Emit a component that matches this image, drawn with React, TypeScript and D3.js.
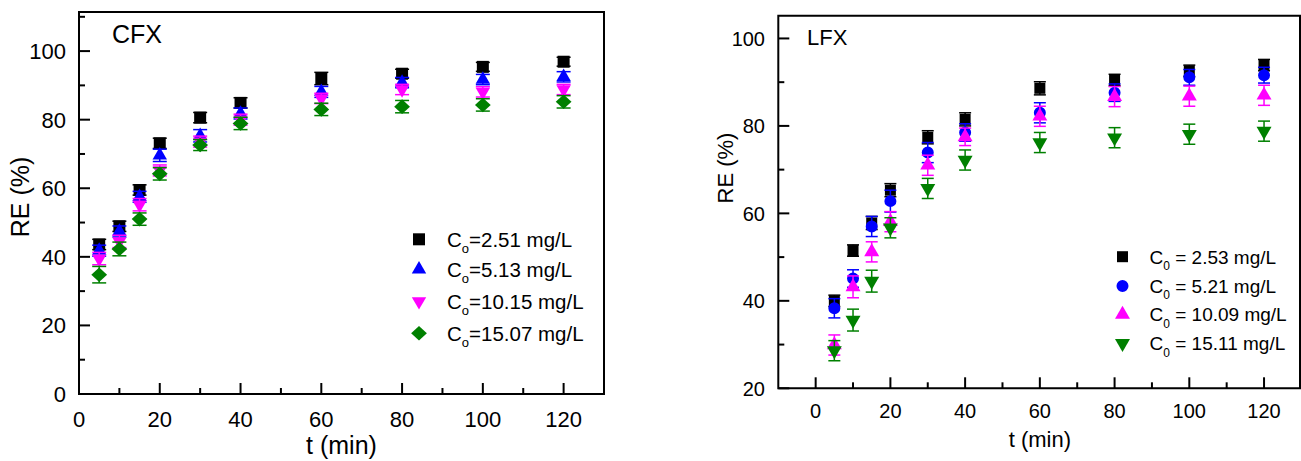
import React from 'react';
import * as d3 from 'd3';

// ---------- data ----------
const times = [5, 10, 15, 20, 30, 40, 60, 80, 100, 120];

// CFX panel
const cfxLegend = ['=2.51 mg/L', '=5.13 mg/L', '=10.15 mg/L', '=15.07 mg/L'];
const cfx251 = [43.6, 48.9, 59.5, 73.1, 80.6, 84.9, 92.0, 93.4, 95.4, 96.9];
const cfx513 = [41.8, 47.4, 57.5, 69.6, 75.3, 81.8, 88.1, 90.8, 91.7, 92.5];
const cfx1015 = [39.5, 44.5, 55.2, 65.2, 73.6, 80.0, 86.2, 88.8, 88.1, 88.8];
const cfx1507 = [34.8, 42.3, 51.0, 64.2, 72.6, 78.9, 83.0, 83.8, 84.3, 85.2];
const cfxErr251 = [1.5, 1.5, 1.5, 1.5, 1.5, 1.5, 1.8, 1.3, 1.3, 1.3];
const cfxErr513 = [1.6, 1.6, 1.6, 1.8, 1.8, 1.6, 1.6, 1.5, 1.5, 1.5];
const cfxErr1015 = [1.8, 1.8, 1.8, 1.6, 1.6, 1.6, 1.5, 1.5, 1.5, 1.5];
const cfxErr1507 = [2.4, 2.0, 1.8, 1.8, 1.6, 1.8, 1.8, 1.8, 1.8, 1.8];

// LFX panel
const lfxLegend = [' = 2.53 mg/L', ' = 5.21 mg/L', ' = 10.09 mg/L', ' = 15.11 mg/L'];
const lfx253 = [40.0, 51.5, 57.8, 65.3, 77.4, 81.5, 88.6, 90.5, 92.6, 93.9];
const lfx521 = [38.3, 45.1, 57.0, 62.8, 73.9, 78.5, 83.0, 87.6, 91.1, 91.6];
const lfx1009 = [29.9, 43.2, 51.2, 58.1, 71.0, 77.5, 82.2, 86.7, 86.8, 87.0];
const lfx1511 = [28.6, 35.6, 44.5, 56.7, 65.7, 72.2, 76.2, 77.3, 78.1, 78.8];
const lfxErr253 = [1.3, 1.3, 1.5, 1.5, 1.5, 1.5, 1.5, 1.3, 1.3, 1.3];
const lfxErr521 = [2.2, 2.0, 2.3, 2.5, 2.3, 2.0, 2.3, 2.0, 1.8, 1.8];
const lfxErr1009 = [2.3, 2.5, 2.3, 2.3, 2.3, 2.0, 2.3, 2.3, 2.3, 2.3];
const lfxErr1511 = [2.3, 2.5, 2.5, 2.3, 2.3, 2.3, 2.3, 2.3, 2.3, 2.3];

const cfxXTicks = [0, 20, 40, 60, 80, 100, 120];
const cfxXMinor = [10, 30, 50, 70, 90, 110, 130];
const cfxYTicks = [0, 20, 40, 60, 80, 100];
const cfxYMinor = [10, 30, 50, 70, 90, 110];
const lfxXTicks = [0, 20, 40, 60, 80, 100, 120];
const lfxXMinor = [10, 30, 50, 70, 90, 110];
const lfxYTicks = [20, 40, 60, 80, 100];
const lfxYMinor = [30, 50, 70, 90];

// ---------- marker shapes ----------
const diamondType = {
  draw(ctx: any, size: number) {
    const rx = Math.sqrt(size / 2) * 1.04;
    const ry = Math.sqrt(size / 2) * 0.96;
    ctx.moveTo(0, -ry);
    ctx.lineTo(rx, 0);
    ctx.lineTo(0, ry);
    ctx.lineTo(-rx, 0);
    ctx.closePath();
  },
};

type Series = {
  values: number[];
  err: number[];
  color: string;
  shape: string;
  label: string;
};

function markerPath(shape: string, size: number) {
  if (shape === 'square') return { d: d3.symbol(d3.symbolSquare, size)() as string, rot: 0 };
  if (shape === 'circle') return { d: d3.symbol(d3.symbolCircle, size)() as string, rot: 0 };
  if (shape === 'up') return { d: d3.symbol(d3.symbolTriangle, size)() as string, rot: 0 };
  if (shape === 'down') return { d: d3.symbol(d3.symbolTriangle, size)() as string, rot: 180 };
  return { d: d3.symbol(diamondType as any, size)() as string, rot: 0 };
}

const FONT = 'Liberation Sans, Arial, Helvetica, sans-serif';

type PanelProps = {
  xDomain: [number, number];
  xRange: [number, number];
  yDomain: [number, number];
  yRange: [number, number];
  xTicks: number[];
  xMinor: number[];
  yTicks: number[];
  yMinor: number[];
  series: Series[];
  sizes: Record<string, number>;
  tickFont: number;
  yLabelEnd: number;
  xLabelBase: number;
  title: string;
  titleX: number;
  titleY: number;
  titleFont: number;
  axisFont: number;
  xTitleY: number;
  yTitleX: number;
  yTitleY: number;
  legendMarkerX: number;
  legendTextX: number;
  legendRows: number[];
  legendFont: number;
  subText: string;
  subFont: number;
  capW: number;
  frameRight: number;
};

function Panel(p: PanelProps) {
  const x = d3.scaleLinear().domain(p.xDomain).range(p.xRange);
  const y = d3.scaleLinear().domain(p.yDomain).range(p.yRange);
  const [x0] = p.xRange;
  const y0 = p.yRange[0];
  const yTop = p.yRange[1];
  const majorLen = 11;
  const minorLen = 6;
  return (
    <g>
      {/* frame */}
      <path
        d={`M${x0},${yTop}H${p.frameRight}V${y0}H${x0}Z`}
        fill="none"
        stroke="#000"
        strokeWidth={2}
      />
      {/* ticks */}
      {p.xTicks.map((t) => (
        <g key={'xt' + t}>
          <line x1={x(t)} x2={x(t)} y1={y0} y2={y0 - majorLen} stroke="#000" strokeWidth={2} />
          <text x={x(t)} y={p.xLabelBase} textAnchor="middle" fontSize={p.tickFont} fontFamily={FONT}>
            {t}
          </text>
        </g>
      ))}
      {p.xMinor.map((t) => (
        <line key={'xm' + t} x1={x(t)} x2={x(t)} y1={y0} y2={y0 - minorLen} stroke="#000" strokeWidth={2} />
      ))}
      {p.yTicks.map((t) => (
        <g key={'yt' + t}>
          <line x1={x0} x2={x0 + majorLen} y1={y(t)} y2={y(t)} stroke="#000" strokeWidth={2} />
          <text
            x={p.yLabelEnd}
            y={y(t)}
            dy="0.36em"
            textAnchor="end"
            fontSize={p.tickFont}
            fontFamily={FONT}
          >
            {t}
          </text>
        </g>
      ))}
      {p.yMinor.map((t) => (
        <line key={'ym' + t} x1={x0} x2={x0 + minorLen} y1={y(t)} y2={y(t)} stroke="#000" strokeWidth={2} />
      ))}
      {/* titles */}
      <text x={p.titleX} y={p.titleY} fontSize={p.titleFont} fontFamily={FONT}>
        {p.title}
      </text>
      <text
        x={(p.xRange[0] + p.xRange[1]) / 2 + (p.title === 'LFX' ? 0 : 0)}
        y={p.xTitleY}
        textAnchor="middle"
        fontSize={p.axisFont}
        fontFamily={FONT}
      >
        t (min)
      </text>
      <text
        transform={`translate(${p.yTitleX},${p.yTitleY}) rotate(-90)`}
        textAnchor="middle"
        fontSize={p.axisFont}
        fontFamily={FONT}
      >
        RE (%)
      </text>
      {/* data */}
      {p.series.map((s, si) => {
        const m = markerPath(s.shape, p.sizes[s.shape]);
        return (
          <g key={'s' + si}>
            {s.values.map((v, i) => {
              const cx = x(times[i]);
              const e = s.err[i];
              return (
                <g key={i}>
                  <line x1={cx} x2={cx} y1={y(v - e)} y2={y(v + e)} stroke={s.color} strokeWidth={1.5} />
                  <line x1={cx - p.capW / 2} x2={cx + p.capW / 2} y1={y(v - e)} y2={y(v - e)} stroke={s.color} strokeWidth={1.5} />
                  <line x1={cx - p.capW / 2} x2={cx + p.capW / 2} y1={y(v + e)} y2={y(v + e)} stroke={s.color} strokeWidth={1.5} />
                  <path d={m.d} transform={`translate(${cx},${y(v)}) rotate(${m.rot})`} fill={s.color} />
                </g>
              );
            })}
          </g>
        );
      })}
      {/* legend */}
      {p.series.map((s, si) => {
        const m = markerPath(s.shape, p.sizes[s.shape]);
        const ry = p.legendRows[si];
        return (
          <g key={'l' + si}>
            <path d={m.d} transform={`translate(${p.legendMarkerX},${ry}) rotate(${m.rot})`} fill={s.color} />
            <text
              x={p.legendTextX}
              y={ry}
              dy="0.36em"
              fontSize={p.legendFont}
              fontFamily={FONT}
              style={{ whiteSpace: 'pre' }}
            >
              C
              <tspan fontSize={p.subFont} dy={6.5}>
                {p.subText}
              </tspan>
              <tspan dy={-6.5}>{s.label}</tspan>
            </text>
          </g>
        );
      })}
    </g>
  );
}

export default function App() {
  const cfxSeries: Series[] = [
    { values: cfx251, err: cfxErr251, color: '#000000', shape: 'square', label: cfxLegend[0] },
    { values: cfx513, err: cfxErr513, color: '#0000ff', shape: 'up', label: cfxLegend[1] },
    { values: cfx1015, err: cfxErr1015, color: '#ff00ff', shape: 'down', label: cfxLegend[2] },
    { values: cfx1507, err: cfxErr1507, color: '#008000', shape: 'diamond', label: cfxLegend[3] },
  ];
  const lfxSeries: Series[] = [
    { values: lfx253, err: lfxErr253, color: '#000000', shape: 'square', label: lfxLegend[0] },
    { values: lfx521, err: lfxErr521, color: '#0000ff', shape: 'circle', label: lfxLegend[1] },
    { values: lfx1009, err: lfxErr1009, color: '#ff00ff', shape: 'up', label: lfxLegend[2] },
    { values: lfx1511, err: lfxErr1511, color: '#008000', shape: 'down', label: lfxLegend[3] },
  ];
  return (
    <svg
      width={1301}
      height={461}
      style={{ position: 'absolute', left: 0, top: 0, background: '#fff' }}
    >
      <rect x={0} y={0} width={1301} height={461} fill="#fff" />
      <Panel
        xDomain={[0, 130]}
        xRange={[79, 604]}
        yDomain={[0, 111.4]}
        yRange={[394, 12]}
        xTicks={cfxXTicks}
        xMinor={cfxXMinor}
        yTicks={cfxYTicks}
        yMinor={cfxYMinor}
        series={cfxSeries}
        sizes={{ square: 144, up: 90, down: 90, diamond: 115, circle: 113 }}
        tickFont={22}
        yLabelEnd={66}
        xLabelBase={427}
        title="CFX"
        titleX={112}
        titleY={43}
        titleFont={25}
        axisFont={25}
        xTitleY={454}
        yTitleX={29}
        yTitleY={197}
        legendMarkerX={419}
        legendTextX={447}
        legendRows={[239.3, 269.3, 301.3, 333.3]}
        legendFont={20.5}
        subText="o"
        subFont={13}
        capW={14}
        frameRight={604}
      />
      <Panel
        xDomain={[-10, 130]}
        xRange={[778.3, 1301.4]}
        yDomain={[20, 105.2]}
        yRange={[388.3, 15.7]}
        xTicks={lfxXTicks}
        xMinor={lfxXMinor}
        yTicks={lfxYTicks}
        yMinor={lfxYMinor}
        series={lfxSeries}
        sizes={{ square: 121, up: 97, down: 97, diamond: 110, circle: 113 }}
        tickFont={20}
        yLabelEnd={765}
        xLabelBase={417.5}
        title="LFX"
        titleX={807}
        titleY={45}
        titleFont={22}
        axisFont={22}
        xTitleY={447}
        yTitleX={733}
        yTitleY={168}
        legendMarkerX={1122.5}
        legendTextX={1149.5}
        legendRows={[256.7, 286, 314.5, 343.3]}
        legendFont={19}
        subText="0"
        subFont={12}
        capW={12}
        frameRight={1300}
      />
    </svg>
  );
}
